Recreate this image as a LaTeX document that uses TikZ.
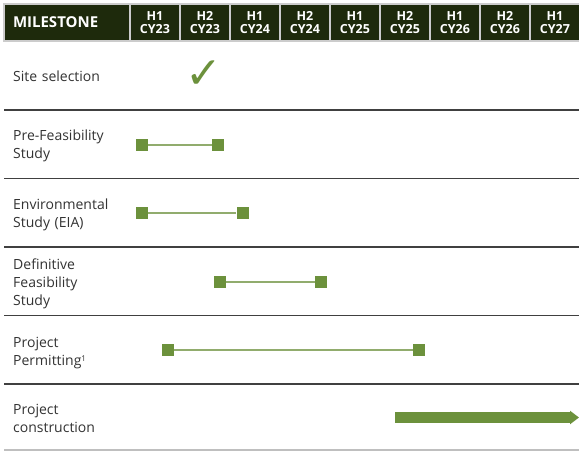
\documentclass[tikz,border=0pt]{standalone}
\usepackage{fontspec}
\setmainfont{Open Sans}
\newfontfamily\symfont{DejaVu Sans}
\usetikzlibrary{arrows.meta}
\definecolor{hdrgreen}{RGB}{30,42,12}
\definecolor{bargreen}{RGB}{108,145,60}
\definecolor{txtgray}{RGB}{51,51,51}
\tikzset{
  hcell/.style={fill=hdrgreen,draw=gray!40,line width=1.2pt,text=white,
    font=\bfseries\fontsize{12.5}{13}\selectfont,align=center,
    inner sep=0pt,minimum height=37,minimum width=50},
  task/.style={text=txtgray,font=\fontsize{14}{18}\selectfont,
    text width=115,align=left,anchor=base west,inner sep=0pt},
  sq/.style={fill=bargreen,minimum size=12,inner sep=0pt},
  link/.style={draw=bargreen!75,line width=2pt},
  rowline/.style={draw=black!75,line width=1.6pt},
}
\begin{document}
\begin{tikzpicture}[x=1pt,y=-1pt]
  \useasboundingbox[fill=white] (0,0) rectangle (579,451);

  % 表头
  \node[hcell,minimum width=126,text width=108,align=left,
    font=\bfseries\fontsize{15}{16}\selectfont] (head) at (67,22.5) {MILESTONE};
  \foreach \h/\c [count=\i from 0] in {H1/CY23,H2/CY23,H1/CY24,H2/CY24,H1/CY25,
      H2/CY25,H1/CY26,H2/CY26,H1/CY27}
    \node[hcell] (col\i) at (155+50*\i,22.5) {\h\\\c};

  % 各行名称
  \node[task] (site) at (13,81) {Site selection};
  \node[task] (pfs) at (13,140.5) {Pre-Feasibility\\Study};
  \node[task] (eia) at (13,209) {Environmental\\Study (EIA)};
  \node[task] (dfs) at (13,269.5) {Definitive\\Feasibility\\Study};
  \node[task] (perm) at (13,347) {Project\\Permitting\raisebox{4pt}{\fontsize{8}{8}\selectfont 1}};
  \node[task] (build) at (13,414.5) {Project\\construction};

  % 分隔线
  \foreach \y in {110,178.5,247,315.5,384}
    \draw[rowline] (4,\y) -- (579,\y);
  \draw[draw=black!25,line width=1.2pt] (4,450) -- (579,450);

  % 进度条
  \node[text=bargreen,font=\symfont\fontsize{44}{44}\selectfont] (tick) at (204,75) {✓};
  \foreach \n/\a/\b/\y in {pfs/142/218/145,eia/142/242.5/213,
      dfs/220/321/282,perm/167.5/419/350}{
    \node[sq] (\n-s) at (\a,\y) {};
    \node[sq] (\n-e) at (\b,\y) {};
    \draw[link] (\n-s) -- (\n-e);
  }
  \coordinate (build-s) at (395,417.5);
  \coordinate (build-e) at (579,417.5);
  \draw[bargreen,line width=11pt,-{Triangle[width=13pt,length=9pt]}] (build-s) -- (build-e);
\end{tikzpicture}
\end{document}
